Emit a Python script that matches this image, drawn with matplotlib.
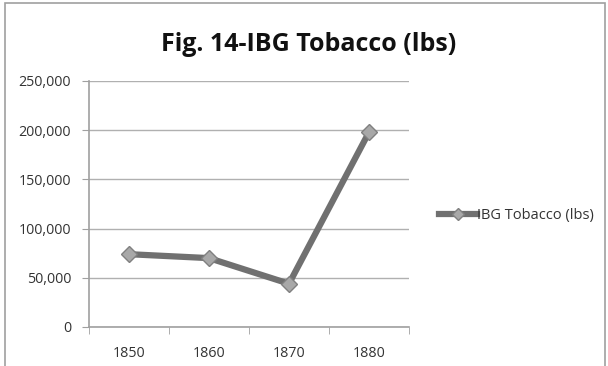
import matplotlib
matplotlib.use("Agg")
import matplotlib.pyplot as plt
from matplotlib.patches import Rectangle
from matplotlib.ticker import FuncFormatter, FixedLocator

years = ["1850", "1860", "1870", "1880"]
tobacco = [74000, 70000, 44000, 198000]
series_name = "IBG Tobacco (lbs)"
title = "Fig. 14-IBG Tobacco (lbs)"

plt.rcParams['font.family'] = ['Open Sans', 'DejaVu Sans']

fig = plt.figure(figsize=(6.08, 3.66), dpi=100)
fig.patches.append(Rectangle((5/608, -0.01), 600/608, 1 - 3/366 + 0.01, transform=fig.transFigure,
                             fill=False, edgecolor='#a0a0a0', linewidth=1.2))
ax = fig.add_axes([89/608, 1 - 327/366, 320/608, 246/366])

x = list(range(len(years)))
ax.plot(x, tobacco, color='#707070', linewidth=4.5, marker='D', markersize=8,
        markerfacecolor='#a8a8a8', markeredgecolor='#808080', markeredgewidth=1,
        label=series_name, zorder=3)

ax.set_xlim(-0.5, len(years) - 0.5)
ax.set_ylim(0, 250000)
ax.set_yticks(range(0, 250001, 50000))
ax.yaxis.set_major_formatter(FuncFormatter(lambda v, p: f"{int(v):,}"))
ax.set_xticks(x)
ax.set_xticklabels(years)
ax.xaxis.set_minor_locator(FixedLocator([i - 0.5 for i in range(len(years) + 1)]))
ax.tick_params(axis='x', which='major', length=0, pad=14, labelsize=10.3, labelcolor='#333333')
ax.tick_params(axis='x', which='minor', length=5, color='#a0a0a0', direction='out')
ax.tick_params(axis='y', length=5, color='#a0a0a0', labelsize=10.3, labelcolor='#333333', pad=8)
ax.grid(axis='y', color='#b0b0b0', linewidth=1)
ax.set_axisbelow(True)
for s in ['top', 'right']:
    ax.spines[s].set_visible(False)
for s in ['left', 'bottom']:
    ax.spines[s].set_color('#a0a0a0')
    ax.spines[s].set_linewidth(1.2)

fig.text(309/608, 1 - 51/366, title, ha='center', va='baseline', fontsize=18,
         fontweight='bold', color='#111111')

leg = fig.legend(loc='center left', bbox_to_anchor=(432/608, 1 - 216/366), frameon=False,
                 fontsize=10.5, handlelength=2.6, handletextpad=0.0, borderpad=0,
                 markerscale=0.75)
for t in leg.get_texts():
    t.set_color('#333333')

fig.savefig("out.png", dpi=100)
